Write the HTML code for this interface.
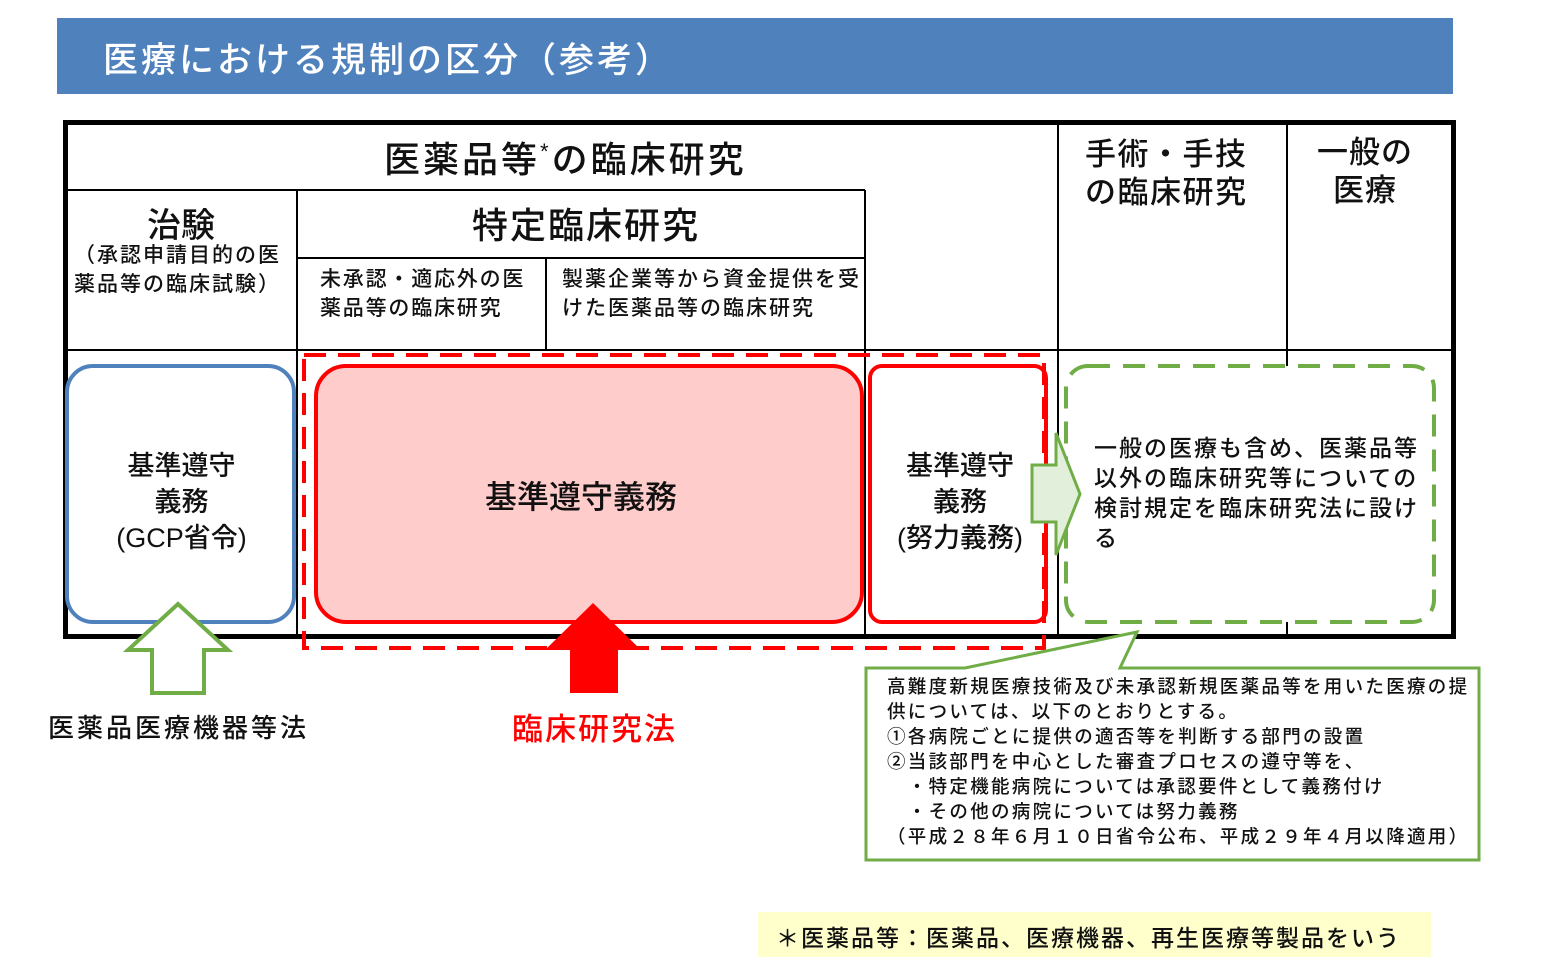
<!DOCTYPE html>
<html><head><meta charset="utf-8"><style>
body{margin:0;width:1553px;height:977px;background:#fff;position:relative;overflow:hidden;font-family:"Liberation Sans","Noto Sans CJK JP",sans-serif;color:#111;font-weight:500}
.a{position:absolute;white-space:nowrap}
.c{text-align:center}
</style></head><body>
<div class="a" style="left:57px;top:18px;width:1396px;height:76px;background:#4f81bd"></div>
<div class="a" style="left:103px;top:32px;font-size:35px;color:#fff;letter-spacing:3px">医療における規制の区分（参考）</div>
<svg class="a" style="left:0;top:0" width="1553" height="977">
<rect x="65.5" y="122.5" width="1388" height="514" fill="none" stroke="#000" stroke-width="5"/>
<g stroke="#000" stroke-width="2">
<line x1="63" y1="190" x2="865" y2="190"/>
<line x1="297" y1="258" x2="865" y2="258"/>
<line x1="63" y1="350" x2="1455" y2="350"/>
<line x1="297" y1="190" x2="297" y2="638"/>
<line x1="546" y1="258" x2="546" y2="350"/>
<line x1="865" y1="190" x2="865" y2="638"/>
<line x1="1058" y1="120" x2="1058" y2="638"/>
<line x1="1287" y1="120" x2="1287" y2="638"/>
</g>
<rect x="67" y="366" width="227" height="256" rx="26" fill="#fff" stroke="#4f81bd" stroke-width="4"/>
<rect x="316" y="366" width="546" height="256" rx="30" fill="#ffcccc" stroke="#f00" stroke-width="4"/>
<rect x="870" y="366" width="176" height="256" rx="12" fill="#fff" stroke="#f00" stroke-width="4"/>
<rect x="304" y="355" width="740" height="293" fill="none" stroke="#f00" stroke-width="4" stroke-dasharray="22,12"/>
<rect x="1066" y="366" width="368" height="256" rx="22" fill="#fff" stroke="#70ad47" stroke-width="4" stroke-dasharray="22,13"/>
<polygon points="1032,465 1056,465 1056,433 1080,494 1056,555 1056,522 1032,522" fill="#e2efda" stroke="#70ad47" stroke-width="3"/>
<polygon points="178,604 228,650 204,650 204,693 152,693 152,650 128,650" fill="#fff" stroke="#70ad47" stroke-width="4"/>
<polygon points="593,603 641,650 618,650 618,693 570,693 570,650 545,650" fill="#f00"/>
<polygon points="866,668 965,668 1137,632 1120,668 1479,668 1479,860 866,860" fill="#fff" stroke="#70ad47" stroke-width="3"/>
<rect x="758" y="912" width="673" height="45" fill="#ffffcc"/>
</svg>
<div class="a" style="left:384px;top:131px;font-size:36px;letter-spacing:3px">医薬品等<sup style="font-size:22px">*</sup>の臨床研究</div>
<div class="a" style="left:1085px;top:136px;font-size:31px;line-height:38px;letter-spacing:1.5px">手術・手技<br>の臨床研究</div>
<div class="a c" style="left:1290px;top:134px;width:150px;font-size:31px;line-height:38px;letter-spacing:1px">一般の<br>医療</div>
<div class="a c" style="left:66px;top:198px;width:230px;font-size:34px">治験</div>
<div class="a" style="left:74px;top:241px;font-size:21px;line-height:29px;letter-spacing:2px">（承認申請目的の医<br>薬品等の臨床試験）</div>
<div class="a c" style="left:297px;top:197px;width:578px;font-size:36px;letter-spacing:2px">特定臨床研究</div>
<div class="a" style="left:320px;top:265px;font-size:21px;line-height:29px;letter-spacing:1.8px">未承認・適応外の医<br>薬品等の臨床研究</div>
<div class="a" style="left:562px;top:265px;font-size:21px;line-height:29px;letter-spacing:2px">製薬企業等から資金提供を受<br>けた医薬品等の臨床研究</div>
<div class="a c" style="left:67px;top:448px;width:229px;font-size:27px;line-height:36px">基準遵守<br>義務<br>(GCP省令)</div>
<div class="a c" style="left:316px;top:472px;width:530px;font-size:32px">基準遵守義務</div>
<div class="a c" style="left:870px;top:448px;width:180px;font-size:27px;line-height:36px">基準遵守<br>義務<br>(努力義務)</div>
<div class="a" style="left:1094px;top:433px;font-size:23px;line-height:30px;letter-spacing:2px">一般の医療も含め、医薬品等<br>以外の臨床研究等についての<br>検討規定を臨床研究法に設け<br>る</div>
<div class="a" style="left:48px;top:708px;font-size:26px;letter-spacing:3px">医薬品医療機器等法</div>
<div class="a" style="left:512px;top:704px;font-size:31px;color:#f00;letter-spacing:2px">臨床研究法</div>
<div class="a" style="left:887px;top:674px;font-size:18.5px;line-height:25px;letter-spacing:2.3px">高難度新規医療技術及び未承認新規医薬品等を用いた医療の提<br>供については、以下のとおりとする。<br>①各病院ごとに提供の適否等を判断する部門の設置<br>②当該部門を中心とした審査プロセスの遵守等を、<br>　・特定機能病院については承認要件として義務付け<br>　・その他の病院については努力義務<br>（平成２８年６月１０日省令公布、平成２９年４月以降適用）</div>
<div class="a" style="left:776px;top:919px;font-size:23px;letter-spacing:2px">＊医薬品等：医薬品、医療機器、再生医療等製品をいう</div>
</body></html>
